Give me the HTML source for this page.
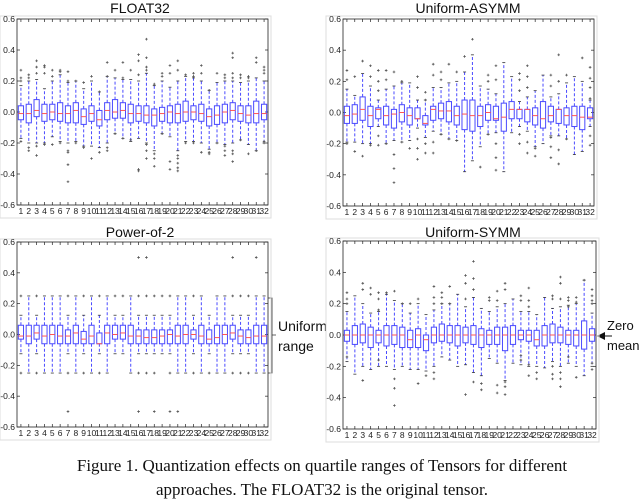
<!DOCTYPE html>
<html><head><meta charset="utf-8"><style>
body{margin:0;background:#fff;}
svg{display:block;font-family:"Liberation Sans",sans-serif;}
</style></head><body>
<svg id="fig" width="640" height="501" viewBox="0 0 640 501" xmlns="http://www.w3.org/2000/svg">
<g>
<path d="M268 298 H272 V373 H268 M272 335 H276" fill="none" stroke="#333" stroke-width="0.8"/>
<text x="278" y="331" font-size="14" fill="#111">Uniform</text>
<text x="278" y="351" font-size="14" fill="#111">range</text>
</g>
<g>
<path d="M612 336 H604" stroke="#111" stroke-width="1"/>
<path d="M597 336 L605 332 L605 340 Z" fill="#111"/>
<text x="607" y="330" font-size="13" fill="#111">Zero</text>
<text x="607" y="350" font-size="13" fill="#111">mean</text>
</g>
<g font-family="'Liberation Serif',serif" font-size="17" fill="#111" text-anchor="middle">
<text x="322" y="471">Figure 1. Quantization effects on quartile ranges of Tensors for different</text>
<text x="322" y="495">approaches. The FLOAT32 is the original tensor.</text>
</g>
</svg>
<script>
// FLOAT32
const f32Q1=[-.05,-.07,-.03,-.06,-.05,-.06,-.07,-.07,-.08,-.06,-.09,-.05,-.04,-.04,-.07,-.06,-.07,-.09,-.06,-.07,-.07,-.06,-.05,-.06,-.09,-.08,-.07,-.05,-.06,-.07,-.07,-.05];
const f32Med=[-.01,-.01,.01,-.01,0,-.01,-.01,.01,-.03,-.01,-.05,.01,0,.01,-.01,-.01,-.02,-.02,-.01,0,-.01,0,0,-.01,-.03,-.02,0,.01,-.01,-.02,-.01,-.01];
const f32Q3=[.04,.05,.08,.05,.05,.06,.04,.06,.02,.04,.01,.06,.08,.06,.05,.04,.04,.02,.03,.04,.05,.07,.04,.05,.02,.04,.05,.06,.04,.04,.07,.05];
const f32Lo=[-.17,-.2,-.2,-.2,-.16,-.19,-.2,-.19,-.22,-.22,-.23,-.2,-.14,-.17,-.19,-.17,-.2,-.25,-.14,-.16,-.25,-.19,-.19,-.2,-.24,-.2,-.21,-.2,-.18,-.21,-.25,-.2];
const f32Hi=[.17,.2,.21,.15,.2,.24,.19,.2,.15,.2,.13,.23,.22,.21,.21,.2,.25,.17,.2,.16,.2,.23,.22,.2,.14,.19,.2,.2,.19,.2,.22,.2];
const f32Out=[[.27,.22,.2,-.19],[.24,.22,-.23,-.25],[.33,.29,.25,-.22,-.28],[.3,.29,.25,-.21],[.27,.23,-.21],[.27,.26,-.2],[.26,.2,-.25,-.26,-.34,-.45],[.2,-.2],[.19,-.23],[.23,-.3],[.13,-.26],[.32,.23,-.23,-.25],[.27,-.14],[.32,.22,-.17],[.27,-.18],[.37,.33,.24,-.37,-.38],[.47,.35,.29,.27,-.21,-.25,-.3],[.18,-.27,-.3,-.35],[.25,.23,-.14],[.3,.25,-.32,-.37],[.33,.27,-.28,-.3,-.33,-.36,-.38],[.24,-.2],[.25,.23,-.2],[.3,.25,-.26],[.14,-.26,-.27],[.25,-.2],[.24,.22,-.22,-.25,-.28],[.38,.35,.25,.22,-.25,-.27,-.32],[.24,.22,-.18],[.23,.22,-.27],[.35,.32,-.25],[.29,.27,.25,-.19,-.2]];
// Uniform-ASYMM
const asQ1=[-.07,-.07,-.05,-.09,-.04,-.08,-.1,-.06,-.08,-.04,-.08,-.05,-.04,-.06,-.08,-.11,-.12,-.09,-.05,-.05,-.12,-.04,-.04,-.06,-.08,-.1,-.06,-.07,-.08,-.09,-.11,-.04];
const asMed=[-.02,-.01,.02,-.02,.02,-.02,-.01,0,-.02,-.04,-.07,.02,.01,.01,-.02,-.01,-.02,-.02,0,-.04,-.03,.02,.02,.02,-.02,-.04,-.02,.02,-.02,-.02,-.03,-.03];
const asQ3=[.04,.05,.1,.04,.03,.04,.02,.05,.03,.03,-.02,.04,.06,.07,.04,.08,.08,.04,.05,.04,.06,.07,.02,.02,.03,.07,.04,.02,.03,.04,.04,.03];
const asLo=[-.19,-.19,-.2,-.2,-.09,-.2,-.18,-.19,-.18,-.1,-.16,-.12,-.14,-.17,-.18,-.38,-.31,-.22,-.14,-.13,-.38,-.13,-.09,-.12,-.22,-.2,-.15,-.15,-.17,-.27,-.25,-.09];
const asHi=[.15,.11,.25,.17,.08,.15,.17,.19,.19,.08,.08,.16,.16,.19,.2,.26,.37,.17,.15,.12,.32,.23,.07,.1,.14,.24,.1,.12,.19,.23,.2,.08];
const asOut=[[.27,.21,-.2],[.23,-.25],[.33,-.28],[.3,.23,-.21],[.27,.2,.14,-.15,-.21],[.27,.21,-.2],[.26,-.27,-.36,-.45],[.2,-.19],[-.23],[.23,.16,-.17,-.23,-.3],[.13,.08,-.2,-.26],[.31,.24,-.19,-.26],[.26,.21,-.14],[.31,-.17],[.26,-.18],[.36],[.47],[-.35],[.24,.2,-.14],[.3,.21,-.2,-.29,-.37],[],[],[.25,.21,.14,-.14,-.2],[.3,.23,.16,-.19,-.26],[-.23,-.28],[],[.24,.17,-.16,-.22,-.29],[.37,.2,-.24,-.33],[.24,-.17],[],[.35],[.29,.22,.16,.09,-.15,-.21]];
// Power-of-2
const pQ1=[-.03,-.06,-.03,-.06,-.06,-.06,-.06,-.06,-.06,-.06,-.06,-.06,-.03,-.03,-.06,-.06,-.06,-.06,-.06,-.06,-.06,-.06,-.03,-.06,-.06,-.06,-.06,-.03,-.06,-.06,-.06,-.06];
const pMed=[-.01,-.01,.01,-.01,0,-.01,-.01,.01,-.03,-.01,-.06,.01,0,.01,-.01,-.01,-.02,-.02,-.01,0,-.01,0,0,-.01,-.03,-.02,0,.01,-.01,-.02,-.01,-.01];
const pQ3=[.06,.06,.06,.06,.06,.06,.03,.06,.02,.06,.01,.06,.06,.06,.06,.03,.03,.03,.03,.03,.06,.06,.03,.06,.03,.06,.06,.06,.03,.03,.06,.06];
const pLo=[-.125,-.25,-.125,-.25,-.25,-.25,-.125,-.25,-.125,-.25,-.125,-.25,-.125,-.125,-.25,-.125,-.125,-.125,-.125,-.125,-.25,-.25,-.125,-.25,-.125,-.25,-.25,-.125,-.125,-.125,-.25,-.25];
const pHi=[.125,.25,.125,.25,.25,.25,.125,.25,.125,.25,.125,.25,.125,.125,.25,.125,.125,.125,.125,.125,.25,.25,.125,.25,.125,.25,.25,.125,.125,.125,.25,.25];
const pOut=[[.25,-.25],[],[.25,-.25],[],[],[],[.25,-.25,-.5],[],[.25,-.25],[],[.25,-.25],[],[.25],[.25],[],[.5,.25,-.25,-.5],[.5,.25,-.25],[.25,-.25,-.5],[.25],[.25,-.25,-.5],[-.5],[],[.25,-.25],[],[-.25],[],[],[.5,.25,-.25],[.25,-.25],[.25,-.25],[.5],[]];
// Uniform-SYMM
const syQ1=[-.04,-.06,-.05,-.08,-.05,-.07,-.06,-.08,-.08,-.08,-.1,-.05,-.04,-.05,-.07,-.05,-.06,-.08,-.06,-.06,-.1,-.06,-.03,-.04,-.07,-.07,-.05,-.05,-.06,-.07,-.09,-.04];
const syMed=[0,0,0,0,0,0,0,0,-.03,0,-.03,0,0,0,0,0,0,0,0,0,0,0,0,0,-.03,0,0,0,0,0,0,0];
const syQ3=[.03,.06,.07,.05,.03,.06,.06,.05,.03,.04,0,.05,.07,.06,.06,.05,.06,.04,.03,.05,.05,.06,.03,.03,.03,.06,.07,.05,.03,.03,.09,.04];
const syLo=[-.17,-.25,-.2,-.22,-.2,-.2,-.22,-.2,-.22,-.22,-.23,-.2,-.14,-.16,-.2,-.19,-.24,-.26,-.15,-.18,-.29,-.18,-.19,-.2,-.2,-.21,-.17,-.2,-.18,-.2,-.26,-.2];
const syHi=[.15,.25,.2,.14,.15,.26,.22,.2,.14,.2,.13,.16,.2,.2,.26,.18,.24,.17,.15,.18,.2,.23,.15,.15,.13,.24,.17,.18,.19,.2,.35,.14];
const syOut=[[.27,.23,.2,-.14],[],[.33,.29,-.29],[.3,.26],[.27,.23,.16,-.16],[.27],[.28,-.28,-.34,-.45],[.2],[.2],[.23,-.31],[-.26],[.31,.24,.2,-.24,-.28],[.27,.24,.2],[.31,.2],[],[.38,.33,.23,-.38],[.47,.36,.29,-.3],[-.31,-.35],[.24,.22],[.28,.22,-.32,-.37],[.33,.29,-.3,-.33,-.38],[],[.25,.22,-.13,-.16],[.3,.22,.18,-.19,-.26],[-.24,-.28],[],[.25,.23,-.2,-.25,-.28],[.37,.33,.23,-.24,-.28,-.33],[.24,.22,.18,-.14],[.24,.21,-.27],[.35],[.29,.25,.22,.2,-.18,-.22]];

const ticks=[0.6,0.4,0.2,0.0,-0.2,-0.4,-0.6];
const cats=[];for(let i=1;i<=32;i++)cats.push(String(i));

const NS="http://www.w3.org/2000/svg";
const svg=document.getElementById('fig');
function mk(tag,attrs,parent){const e=document.createElementNS(NS,tag);for(const k in attrs)e.setAttribute(k,attrs[k]);parent.appendChild(e);return e;}

const panels=[
 {name:'float32',title:'FLOAT32',x0:17,x1:268,y0:19,y1:205,tx:140,ty:13,q1:f32Q1,med:f32Med,q3:f32Q3,lo:f32Lo,hi:f32Hi,out:f32Out},
 {name:'uniform-asymm',title:'Uniform-ASYMM',x0:343,x1:594,y0:19,y1:206,tx:468,ty:13,q1:asQ1,med:asMed,q3:asQ3,lo:asLo,hi:asHi,out:asOut},
 {name:'power-of-2',title:'Power-of-2',x0:17,x1:268,y0:242,y1:427,tx:140,ty:237,q1:pQ1,med:pMed,q3:pQ3,lo:pLo,hi:pHi,out:pOut},
 {name:'uniform-symm',title:'Uniform-SYMM',x0:343,x1:596,y0:241,y1:429,tx:473,ty:237,q1:syQ1,med:syMed,q3:syQ3,lo:syLo,hi:syHi,out:syOut}
];

panels.forEach(p=>{
 const g=mk('g',{},svg);
 
 
 const yS=v=>p.y1-(v+0.6)/1.2*(p.y1-p.y0);
 const xS=i=>p.x0+(i+0.5)/32*(p.x1-p.x0);
 const ob=mk('rect',{x:p.x0-17,y:p.y0-3,width:p.x1-p.x0+20,height:p.y1-p.y0+16,fill:'none',stroke:'#ddd','stroke-width':1},g);
 
 
 const t=mk('text',{x:p.tx,y:p.ty,'font-size':14,'text-anchor':'middle',fill:'#111'},g);
 t.textContent=p.title;
 
 
 const fr=mk('rect',{x:p.x0,y:p.y0,width:p.x1-p.x0,height:p.y1-p.y0,fill:'#fff',stroke:'#222','stroke-width':0.8},g);
 
 
 ticks.forEach(v=>{
  const y=yS(v);
  mk('line',{x1:p.x0,x2:p.x0+3,y1:y,y2:y,stroke:'#222','stroke-width':0.7},g);
  mk('line',{x1:p.x1,x2:p.x1-3,y1:y,y2:y,stroke:'#222','stroke-width':0.7},g);
  const tl=mk('text',{x:p.x0-2,y:y+3,'font-size':8.5,'text-anchor':'end',fill:'#222'},g);
  tl.textContent=v.toFixed(1);
  
  
 });
 cats.forEach((c,i)=>{
  const x=xS(i);
  mk('line',{x1:x,x2:x,y1:p.y0,y2:p.y0+3,stroke:'#222','stroke-width':0.7},g);
  mk('line',{x1:x,x2:x,y1:p.y1,y2:p.y1-3,stroke:'#222','stroke-width':0.7},g);
  const xl=mk('text',{x:x,y:p.y1+9,'font-size':8.5,'text-anchor':'middle',fill:'#222'},g);
  xl.textContent=c;
  
  
  const bg=mk('g',{},g);
  
  
  const w=2.6;
  mk('line',{x1:x,x2:x,y1:yS(p.q3[i]),y2:yS(p.hi[i]),stroke:'#4a4aff','stroke-width':1,'stroke-dasharray':'3,2'},bg);
  mk('line',{x1:x,x2:x,y1:yS(p.q1[i]),y2:yS(p.lo[i]),stroke:'#4a4aff','stroke-width':1,'stroke-dasharray':'3,2'},bg);
  mk('line',{x1:x-1.5,x2:x+1.5,y1:yS(p.hi[i]),y2:yS(p.hi[i]),stroke:'#333','stroke-width':0.8},bg);
  mk('line',{x1:x-1.5,x2:x+1.5,y1:yS(p.lo[i]),y2:yS(p.lo[i]),stroke:'#333','stroke-width':0.8},bg);
  mk('rect',{x:x-w,y:yS(p.q3[i]),width:2*w,height:Math.max(0.5,yS(p.q1[i])-yS(p.q3[i])),fill:'none',stroke:'#4a4aff','stroke-width':1},bg);
  mk('line',{x1:x-w,x2:x+w,y1:yS(p.med[i]),y2:yS(p.med[i]),stroke:'#ff5555','stroke-width':1},bg);
  p.out[i].forEach(v=>{
   const y=yS(v);
   mk('path',{d:`M${x-1.3} ${y}H${x+1.3}M${x} ${y-1.3}V${y+1.3}`,stroke:'#555','stroke-width':0.8},bg);
  });
 });
});
</script>
</body></html>
